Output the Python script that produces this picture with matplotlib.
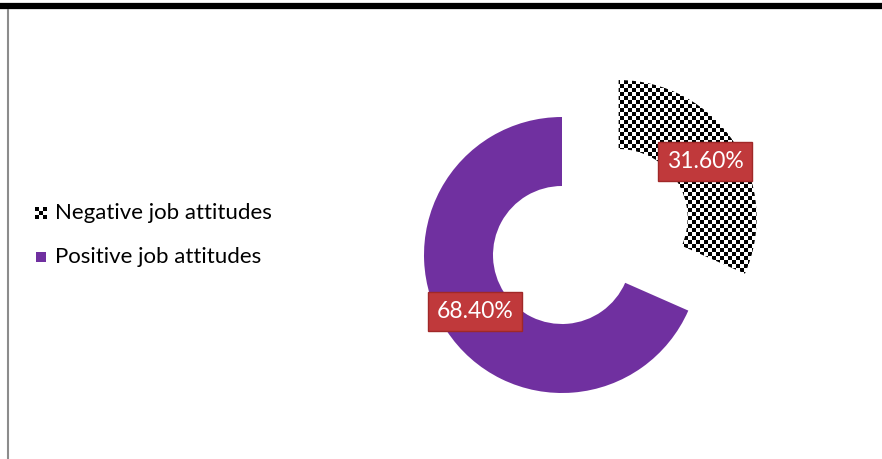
import numpy as np
import matplotlib
matplotlib.use("Agg")
import matplotlib.pyplot as plt
from matplotlib.patches import Rectangle

# data
labels = ["Negative job attitudes", "Positive job attitudes"]
shares = [31.6, 68.4]
purple = "#7030A0"

W, H = 882, 459
cx, cy, R = 562, 255, 138   # donut centre / outer radius in pixels

fig = plt.figure(figsize=(W / 100, H / 100), dpi=100)
ax = fig.add_axes([0, 0, 1, 1])

def px(x, y):
    # pixel (from top-left) -> data units (1 unit = outer radius)
    return (x - cx) / R, (cy - y) / R

wedges, texts, autotexts = ax.pie(
    shares, startangle=90, counterclock=False, explode=[0.49, 0],
    colors=["white", purple], autopct="%.2f%%", pctdistance=0.75,
    wedgeprops=dict(width=0.5, linewidth=0),
    textprops=dict(color="white", fontsize=16.5, family="Lato"))

for t in autotexts:
    t.set_bbox(dict(boxstyle="square,pad=0.38", facecolor="#C0393B",
                    edgecolor="#A02828", linewidth=1))

x0, y1 = px(0, 0)
x1, y0 = px(W, H)

# checker fill for the negative slice
cell = 4
ny, nx = H // cell + 1, W // cell + 1
checker = (np.add.outer(np.arange(ny), np.arange(nx)) % 2).astype(float)
im = ax.imshow(checker, cmap="gray", interpolation="nearest",
               extent=(x0, x0 + nx * cell / R, y1 - ny * cell / R, y1),
               origin="upper", zorder=1)
im.set_clip_path(wedges[0])
for t in autotexts:
    t.set_zorder(5)

# legend (drawn by hand)
mark = np.ones((3, 3))
mark[::2, ::2] = 0
mark[1, 1] = 0
for i, lab in enumerate(labels):
    ty = 213 + i * 44
    if i == 0:
        a, b = px(35, ty - 6)
        c, d = px(47, ty + 6)
        ax.imshow(mark, cmap="gray", interpolation="nearest",
                  extent=(a, c, d, b), vmin=0, vmax=1, zorder=3)
    else:
        a, b = px(36, ty + 5)
        ax.add_patch(Rectangle((a, b), 10 / R, 10 / R, facecolor=purple,
                               edgecolor="none", zorder=3))
    tx, tyd = px(55, ty)
    ax.text(tx, tyd, lab, fontsize=16, family="Lato", va="center",
            ha="left", color="black")

# frame lines
a, b = px(0, 6)
c, d = px(W, 6)
ax.plot([a, c], [b, d], color="black", linewidth=4.5, solid_capstyle="butt")
a, b = px(8, 9)
c, d = px(8, H)
ax.plot([a, c], [b, d], color="#8c8c8c", linewidth=1.5, solid_capstyle="butt")

ax.set_xlim(x0, x1)
ax.set_ylim(y0, y1)
ax.set_aspect("auto")
ax.axis("off")

fig.savefig("out.png", dpi=100)
